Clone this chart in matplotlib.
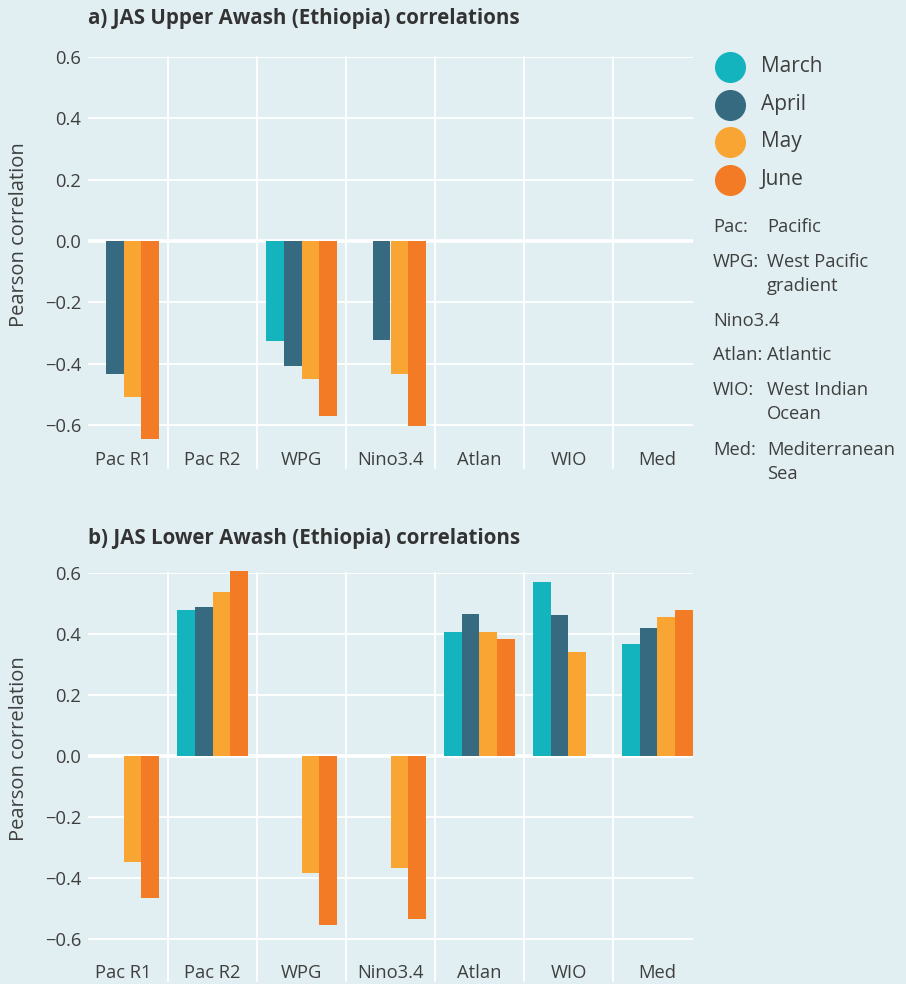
import numpy as np
import matplotlib
matplotlib.use("Agg")
from matplotlib import pyplot as plt
from matplotlib.transforms import blended_transform_factory

plt.rcParams["font.family"] = ["Open Sans", "DejaVu Sans"]

# Data
categories = ["Pac R1", "Pac R2", "WPG", "Nino3.4", "Atlan", "WIO", "Med"]
months = ["March", "April", "May", "June"]
colors = ["#14b4be", "#356a80", "#f9a533", "#f47b26"]
nan = np.nan

upper_march = [nan, nan, -0.325, nan, nan, nan, nan]
upper_april = [-0.434, nan, -0.408, -0.322, nan, nan, nan]
upper_may = [-0.508, nan, -0.450, -0.434, nan, nan, nan]
upper_june = [-0.646, nan, -0.570, -0.602, nan, nan, nan]

lower_march = [nan, 0.480, nan, nan, 0.408, 0.572, 0.366]
lower_april = [nan, 0.490, nan, nan, 0.464, 0.461, 0.421]
lower_may = [-0.347, 0.539, -0.386, -0.369, 0.405, 0.340, 0.454]
lower_june = [-0.468, 0.608, -0.556, -0.534, 0.382, nan, 0.477]

yticks = [-0.6, -0.4, -0.2, 0.0, 0.2, 0.4, 0.6]

glossary = [
    ("Pac:", ["Pacific"]),
    ("WPG:", ["West Pacific", "gradient"]),
    ("Nino3.4", []),
    ("Atlan:", ["Atlantic"]),
    ("WIO:", ["West Indian", "Ocean"]),
    ("Med:", ["Mediterranean", "Sea"]),
]

bg = "#e1eff2"
txt = "#3f3f3f"

W, H = 906, 984
fig = plt.figure(figsize=(W / 100, H / 100), dpi=100, facecolor=bg)


def panel(rect, series, title, title_y):
    ax = fig.add_axes(rect, facecolor=bg)
    x = np.arange(len(categories))
    width = 0.2
    for i, vals in enumerate(series):
        ax.bar(x + (i - 1.5) * width, vals, width, color=colors[i],
               linewidth=0, zorder=3, clip_on=False)
    ax.set_xlim(-0.4, 6.4)
    ax.set_ylim(-0.67, 0.6)
    ax.set_yticks(yticks)
    ax.set_yticklabels([f"{v:.1f}".replace("-", "\u2212") for v in yticks])
    ax.set_xticks(x)
    ax.set_xticklabels(categories)
    ax.tick_params(length=0, labelsize=13.2, colors=txt)
    ax.tick_params(axis="x", pad=3)
    ax.tick_params(axis="y", pad=5)
    for s in ax.spines.values():
        s.set_visible(False)
    for v in yticks:
        ax.axhline(v, color="white", lw=2.6 if v == 0 else 1.3, zorder=1)
    tr = blended_transform_factory(ax.transData, ax.transAxes)
    for xv in np.arange(0.5, 6.0, 1.0):
        ax.plot([xv, xv], [1.0, -0.055], color="white", lw=1.3,
                transform=tr, clip_on=False, zorder=1)
    ax.set_ylabel("Pearson correlation", fontsize=14.5, color=txt)
    ax.yaxis.set_label_coords(-0.098, 0.545)
    ax.text(0.0, title_y, title, transform=ax.transAxes, fontsize=14.8,
            fontweight="bold", color="#333333", ha="left", va="bottom")
    return ax


panel([88 / W, 1 - 446.5 / H, 605 / W, 389.5 / H],
      [upper_march, upper_april, upper_may, upper_june],
      "a) JAS Upper Awash (Ethiopia) correlations", 1.073)
panel([88 / W, 1 - 960 / H, 605 / W, 387 / H],
      [lower_march, lower_april, lower_may, lower_june],
      "b) JAS Lower Awash (Ethiopia) correlations", 1.062)

# Legend and glossary in figure pixel coordinates
lax = fig.add_axes([0, 0, 1, 1])
lax.set_xlim(0, W)
lax.set_ylim(H, 0)
lax.axis("off")
for i, (m, c) in enumerate(zip(months, colors)):
    y = 67 + i * 37.5
    lax.scatter([730], [y], s=500, color=c, linewidths=0)
    lax.text(761, y, m, fontsize=15, color=txt, va="center", ha="left")

gloss_y = [227, 262, 321, 355, 390, 450]
for (abbr, full), y in zip(glossary, gloss_y):
    lax.text(713, y, abbr, fontsize=13.2, color=txt, va="center", ha="left")
    for j, line in enumerate(full):
        lax.text(767, y + j * 24, line, fontsize=13.2, color=txt,
                 va="center", ha="left")

fig.savefig("out.png", dpi=100, facecolor=bg)
